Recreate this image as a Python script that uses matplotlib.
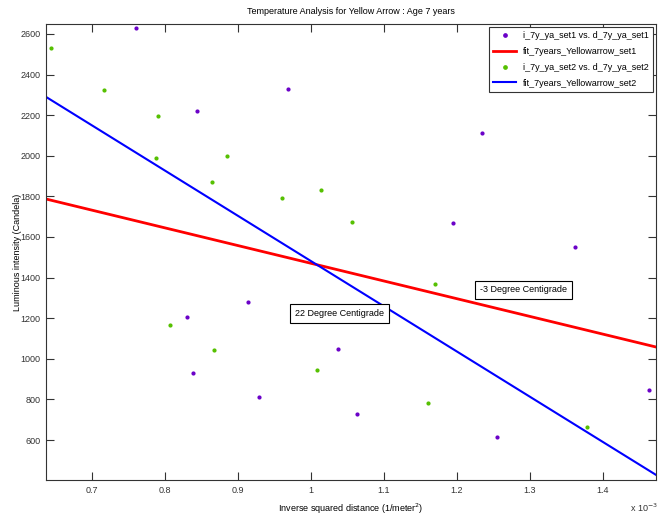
import numpy as np
import matplotlib
matplotlib.use("Agg")
import matplotlib.pyplot as plt

plt.rcParams['font.family'] = ['Liberation Sans', 'DejaVu Sans']

# set 1 (purple) - x in units of 1e-3 1/m^2
x_set1 = [0.760, 0.968, 0.844, 1.234, 1.1945, 1.362, 0.914, 0.830, 0.838, 0.929,
          1.037, 1.063, 1.255, 1.464]
y_set1 = [2627, 2329, 2221, 2112, 1669, 1551, 1280, 1206, 930, 812,
          1048, 728, 615, 846]

# set 2 (green)
x_set2 = [0.644, 0.716, 0.790, 0.788, 0.885, 0.864, 0.960, 1.014, 1.056, 0.807,
          0.867, 1.008, 1.170, 1.160, 1.379]
y_set2 = [2531, 2324, 2196, 1989, 1999, 1871, 1792, 1832, 1675, 1167,
          1043, 945, 1368, 782, 664]

# linear fits: slope, intercept
fit_set1 = [-872.0, 2342.5]
fit_set2 = [-2227.0, 3708.6]

xlim = (0.637, 1.473)
ylim = (403, 2649)

fig = plt.figure(figsize=(6.58, 5.18), dpi=100)
ax = fig.add_axes([46/658, 38/518, 610/658, 456/518])

purple = '#6a00c8'
green = '#55c000'

xf = np.array(xlim)
ax.plot(x_set1, y_set1, '.', color=purple, markersize=4,
        label='i_7y_ya_set1 vs. d_7y_ya_set1')
ax.plot(xf, np.polyval(fit_set1, xf), color='red', lw=2,
        label='fit_7years_Yellowarrow_set1')
ax.plot(x_set2, y_set2, '.', color=green, markersize=4,
        label='i_7y_ya_set2 vs. d_7y_ya_set2')
ax.plot(xf, np.polyval(fit_set2, xf), color='blue', lw=1.5,
        label='fit_7years_Yellowarrow_set2')

ax.set_xlim(xlim)
ax.set_ylim(ylim)
ax.set_xticks([0.7, 0.8, 0.9, 1.0, 1.1, 1.2, 1.3, 1.4])
ax.set_xticklabels(['0.7', '0.8', '0.9', '1', '1.1', '1.2', '1.3', '1.4'])
ax.set_yticks(range(600, 2601, 200))
ax.tick_params(direction='in', length=6, width=0.8, top=True, right=True,
               labelsize=6.5, colors='#333333', pad=4)
for s in ax.spines.values():
    s.set_color('#333333')
    s.set_linewidth(0.8)

ax.set_title('Temperature Analysis for Yellow Arrow : Age 7 years',
             fontsize=6.5, pad=7)
ax.set_xlabel('Inverse squared distance (1/meter$^2$)', fontsize=6.5, labelpad=5)
ax.set_ylabel('Luminous intensity (Candela)', fontsize=6.5)
ax.yaxis.set_label_coords(-0.04, 0.5)
fig.text(630/658, 1 - 512/518, 'x 10$^{-3}$', fontsize=6.5, color='#333333')

box = dict(boxstyle='square,pad=0.55', fc='white', ec='black', lw=0.8)
ax.text(0.978, 1221, '22 Degree Centigrade', fontsize=6.5, va='center', bbox=box)
ax.text(1.232, 1339, '-3 Degree Centigrade', fontsize=6.5, va='center', bbox=box)

leg = ax.legend(loc='upper right', fontsize=6.5, fancybox=False, framealpha=1,
                edgecolor='#333333', handlelength=2.5, borderaxespad=0.3,
                labelspacing=0.75, markerscale=1.2, borderpad=0.5)
leg.get_frame().set_linewidth(0.8)

fig.savefig('out.png', dpi=100)
